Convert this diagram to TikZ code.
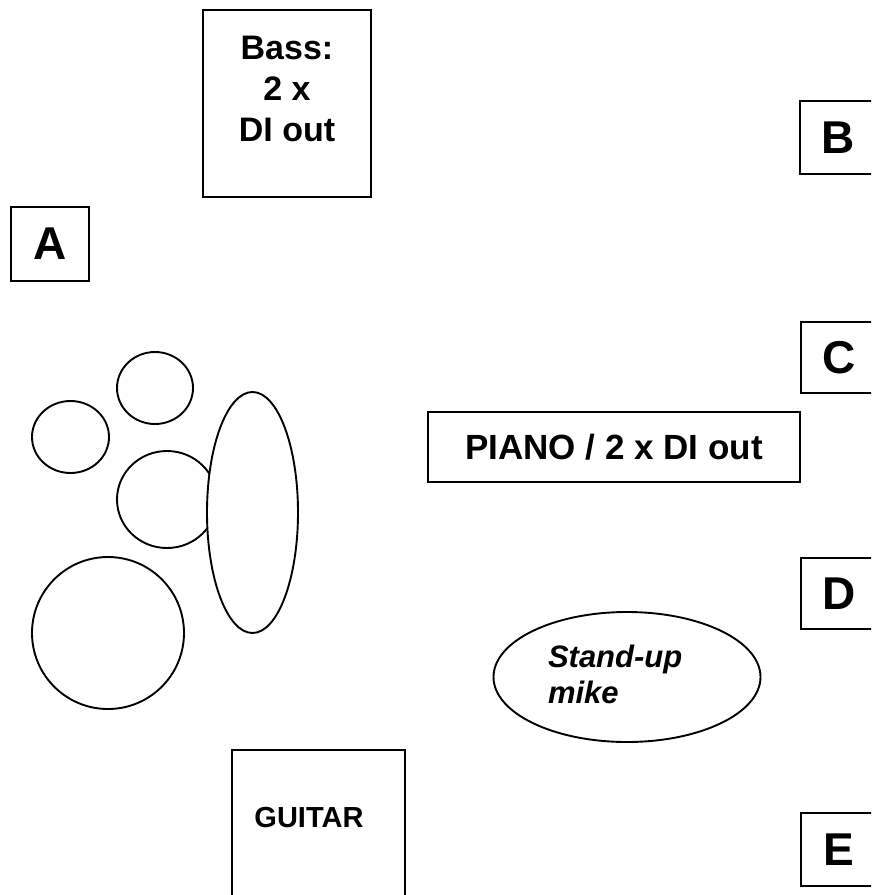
\documentclass[tikz,border=0pt]{standalone}
\usepackage{fontspec}
\setmainfont{Liberation Sans}
\usetikzlibrary{shapes.geometric}
\begin{document}
\begin{tikzpicture}[x=1pt,y=-1pt,
  every node/.style={inner sep=0pt,outer sep=0pt},
  box/.style={draw=black,line width=1.9pt,rectangle,fill=white},
  letterbox/.style={box,font=\fontsize{46}{50}\selectfont\bfseries},
  drum/.style={draw=black,line width=1.9pt,ellipse,fill=white},
  lbl/.style={font=\fontsize{#1}{#1}\selectfont\bfseries,text=black}]
\clip (0,0) rectangle (871,895);
\useasboundingbox (0,0) rectangle (871,895);
\fill[white] (0,0) rectangle (871,895);
% Bass box
\node[box,minimum width=168pt,minimum height=187pt] (bass) at (287,103.5) {};
\node[lbl=34,align=center,font=\fontsize{34}{41}\selectfont\bfseries] (basst) at (287,89) {Bass:\\2 x\\DI out};
% letter boxes
\node[letterbox,minimum width=78pt,minimum height=74pt] (A) at (50,244) {A};
\node[letterbox,minimum width=76pt,minimum height=73pt] (B) at (838,137.5) {B};
\node[letterbox,minimum width=76pt,minimum height=71pt] (C) at (839,357.5) {C};
\node[letterbox,minimum width=76pt,minimum height=71pt] (D) at (839,593.5) {D};
\node[letterbox,minimum width=76pt,minimum height=73pt] (E) at (839,849.5) {E};
% piano
\node[box,minimum width=372pt,minimum height=70pt,font=\fontsize{35}{40}\selectfont\bfseries] (piano) at (614,447) {PIANO / 2 x DI out};
% drums
\node[drum,minimum width=76pt,minimum height=72pt] (tom1) at (155,388) {};
\node[drum,minimum width=77pt,minimum height=72pt] (tom2) at (70.5,437) {};
\node[drum,minimum width=100pt,minimum height=97pt] (snare) at (167,499.5) {};
\node[drum,minimum width=91pt,minimum height=241pt] (kick) at (252.5,512.5) {};
\node[drum,minimum width=152pt,minimum height=152pt] (floor) at (108,633) {};
% stand-up mike
\node[drum,minimum width=267pt,minimum height=130pt] (mike) at (627,677) {};
\node[anchor=base west,align=left,font=\fontsize{31}{36}\selectfont\bfseries\itshape] (miket) at (548,703) {Stand-up\\mike};
% guitar
\node[box,minimum width=173pt,minimum height=220pt] (guitar) at (318.5,860) {};
\node[lbl=29] (guitart) at (309,818) {GUITAR};
\end{tikzpicture}
\end{document}
